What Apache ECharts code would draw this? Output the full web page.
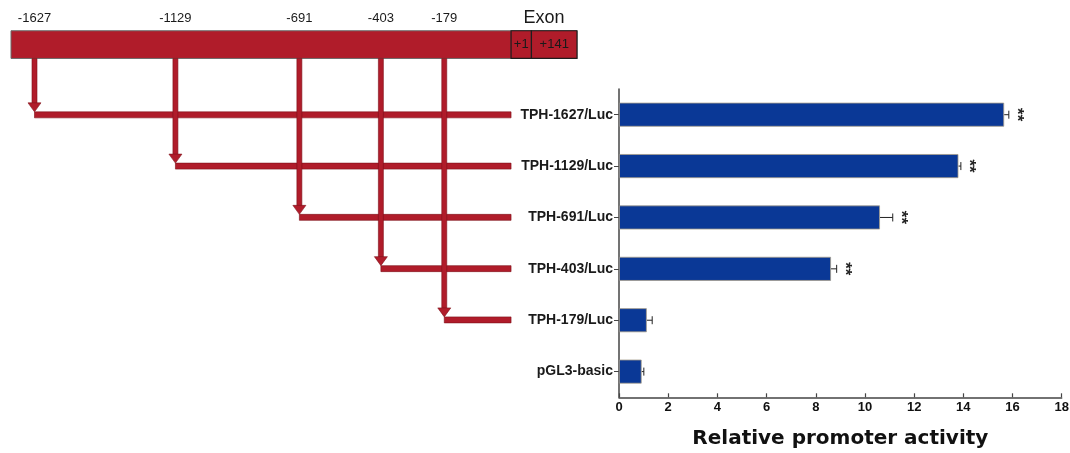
<!DOCTYPE html>
<html>
<head>
<meta charset="utf-8">
<script src="https://cdn.jsdelivr.net/npm/echarts@6/dist/echarts.min.js"></script>
<style>
  html, body { margin: 0; padding: 0; background: #fff; }
  #chart { width: 1070px; height: 453px; }
</style>
</head>
<body>
<div id="chart"></div>
<script>
// luciferase constructs, top to bottom
var constructs = ['TPH-1627/Luc', 'TPH-1129/Luc', 'TPH-691/Luc', 'TPH-403/Luc', 'TPH-179/Luc', 'pGL3-basic'];
var activity = [15.66, 13.80, 10.61, 8.62, 1.13, 0.92];
var activitySem = [0.19, 0.10, 0.52, 0.23, 0.22, 0.09];
var significance = ['**', '**', '**', '**', '', ''];

// 5' deletion start points (bp), one per TPH construct
var deletionStarts = [-1627, -1129, -691, -403, -179];
var exonLabels = ['+1', '+141'];
var exonEdges = [57, 129, 290];   // schematic edges of the exon boxes on the diagram axis

var RED = '#B01C2A';
var RED_EDGE = '#7d1019';
var BLUE = '#0A3896';

// diagram rows: same spacing as the bar categories, negative rows sit above the bars
var PROMOTER_ROWS = [-1.65, -1.11];
var LABEL_ROW = -1.9;
var DIAG_MIN = -1710, DIAG_MAX = 290;

var chart = echarts.init(document.getElementById('chart'));

function txt(text, x, y, size, weight, family) {
  return {
    type: 'text',
    style: {
      text: text, x: x, y: y,
      align: 'center', verticalAlign: 'middle',
      textAlign: 'center', textVerticalAlign: 'middle',
      fill: '#1a1a1a',
      fontSize: size, fontWeight: weight || 'normal',
      fontFamily: family || 'Liberation Sans'
    }
  };
}

// long promoter bar with exon boxes
function renderPromoter(params, api) {
  var p0 = api.coord([DIAG_MIN, PROMOTER_ROWS[0]]);
  var p1 = api.coord([DIAG_MAX, PROMOTER_ROWS[1]]);
  var kids = [{
    type: 'rect',
    shape: { x: p0[0], y: p0[1], width: p1[0] - p0[0], height: p1[1] - p0[1] },
    style: { fill: RED, stroke: '#6b6b6b', lineWidth: 1 }
  }];
  for (var i = 0; i < exonLabels.length; i++) {
    var a = api.coord([exonEdges[i], PROMOTER_ROWS[0]]);
    var b = api.coord([exonEdges[i + 1], PROMOTER_ROWS[1]]);
    kids.push({
      type: 'rect',
      shape: { x: a[0], y: a[1], width: b[0] - a[0], height: b[1] - a[1] },
      style: { fill: RED, stroke: '#1e1e1e', lineWidth: 1.2 }
    });
    kids.push(txt(exonLabels[i], (a[0] + b[0]) / 2, (a[1] + b[1]) / 2, 13));
  }
  var mid = api.coord([(exonEdges[0] + exonEdges[2]) / 2, LABEL_ROW]);
  kids.push(txt('Exon', mid[0], mid[1] + 0.5, 18));
  return { type: 'group', children: kids };
}

// arrow down from the deletion start, then a line across to the construct label
function renderDeletion(params, api) {
  var x = api.coord([api.value(0), 0])[0];
  var rowY = api.coord([0, api.value(1)])[1];
  var top = api.coord([0, PROMOTER_ROWS[1]])[1];
  var endX = api.coord([exonEdges[0], 0])[0];
  var lab = api.coord([api.value(0), LABEL_ROW]);
  var w = 5, head = 9, headW = 13;
  var lineTop = rowY - w / 2 - 1;
  var st = { fill: RED, stroke: RED_EDGE, lineWidth: 0.6 };
  return {
    type: 'group',
    children: [
      { type: 'rect', shape: { x: x - w / 2, y: top, width: w, height: lineTop - head - top + 1 }, style: st },
      { type: 'polygon', shape: { points: [[x - headW / 2, lineTop - head], [x + headW / 2, lineTop - head], [x, lineTop]] }, style: st },
      { type: 'rect', shape: { x: x, y: lineTop, width: endX - x, height: w + 1 }, style: st },
      txt(String(api.value(0)), lab[0], lab[1], 13)
    ]
  };
}

// one-sided SEM whisker plus significance stars
function renderError(params, api) {
  var i = api.value(0);
  var start = api.coord([api.value(1), i]);
  var end = api.coord([api.value(1) + api.value(2), i]);
  var cap = 4;
  var kids = [
    { type: 'line', shape: { x1: start[0], y1: start[1], x2: end[0], y2: end[1] }, style: { stroke: '#222', lineWidth: 1 } },
    { type: 'line', shape: { x1: end[0], y1: end[1] - cap, x2: end[0], y2: end[1] + cap }, style: { stroke: '#222', lineWidth: 1 } }
  ];
  var s = significance[params.dataIndex];
  if (s) {
    kids.push({
      type: 'text',
      x: end[0] + 8, y: end[1],
      rotation: -Math.PI / 2,
      style: {
        text: s, x: 0, y: 0,
        align: 'center', verticalAlign: 'middle',
        textAlign: 'center', textVerticalAlign: 'middle',
        fill: '#222', fontSize: 17, fontWeight: 'bold', fontFamily: 'Liberation Sans'
      }
    });
  }
  return { type: 'group', children: kids };
}

var option = {
  animation: false,
  backgroundColor: '#fff',
  grid: [
    { left: 619, right: 8.3, top: 89, bottom: 55.7, containLabel: false, outerBoundsMode: 'none' },
    { left: 11, right: 493, top: 0, bottom: 55.7, containLabel: false, outerBoundsMode: 'none' }
  ],
  xAxis: [
    {
      type: 'value', gridIndex: 0, min: 0, max: 18, interval: 2,
      name: 'Relative promoter activity',
      nameLocation: 'middle', nameGap: 31,
      nameTextStyle: { fontFamily: 'DejaVu Sans', fontWeight: 'bold', fontSize: 20, color: '#111' },
      axisLine: { show: true, lineStyle: { color: '#444', width: 1.5 } },
      axisTick: { show: true, inside: true, length: 4, lineStyle: { color: '#444', width: 1.2 } },
      axisLabel: { margin: 4, fontFamily: 'Liberation Sans', fontWeight: 'bold', fontSize: 13, color: '#111' },
      splitLine: { show: false }
    },
    { type: 'value', gridIndex: 1, min: DIAG_MIN, max: DIAG_MAX, show: false }
  ],
  yAxis: [
    {
      type: 'category', gridIndex: 0, data: constructs, inverse: true,
      axisLine: { show: true, lineStyle: { color: '#444', width: 1.5 } },
      axisTick: { show: true, alignWithLabel: true, length: 5, lineStyle: { color: '#444', width: 1 } },
      axisLabel: { margin: 6, fontFamily: 'Liberation Sans', fontWeight: 'bold', fontSize: 14, color: '#1a1a1a' }
    },
    { type: 'value', gridIndex: 1, min: -2.25, max: 5.5, inverse: true, show: false }
  ],
  series: [
    {
      name: 'promoter', type: 'custom', xAxisIndex: 1, yAxisIndex: 1,
      renderItem: renderPromoter, data: [[DIAG_MIN, 0]], silent: true
    },
    {
      name: 'deletions', type: 'custom', xAxisIndex: 1, yAxisIndex: 1,
      renderItem: renderDeletion, silent: true,
      data: deletionStarts.map(function (p, i) { return [p, i]; })
    },
    {
      name: 'activity', type: 'bar', xAxisIndex: 0, yAxisIndex: 0,
      barWidth: 24, data: activity,
      itemStyle: { color: BLUE, borderColor: '#a49c8a', borderWidth: 0.8 }
    },
    {
      name: 'sem', type: 'custom', xAxisIndex: 0, yAxisIndex: 0,
      renderItem: renderError, silent: true,
      encode: { x: [1, 2], y: 0 },
      data: activity.map(function (v, i) { return [i, v, activitySem[i]]; })
    }
  ]
};

chart.setOption(option);
</script>
</body>
</html>
